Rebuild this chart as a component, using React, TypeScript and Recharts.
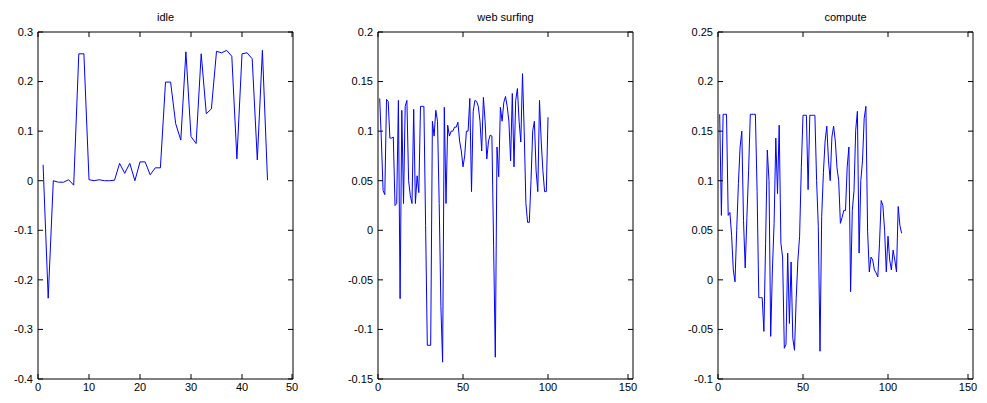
import { Line, LineChart, ReferenceLine, XAxis, YAxis } from 'recharts'

const idleValues = [
  0.032, -0.237, 0.0, -0.003, -0.003, 0.002, -0.009, 0.256, 0.256, 0.002,
  0.0, 0.002, 0.0, 0.0, 0.001, 0.035, 0.015, 0.035, 0.0, 0.038,
  0.038, 0.012, 0.026, 0.026, 0.199, 0.199, 0.115, 0.082, 0.26, 0.089,
  0.075, 0.256, 0.135, 0.145, 0.261, 0.258, 0.263, 0.251, 0.044, 0.256,
  0.258, 0.246, 0.042, 0.263, 0.001,
]

const webValues = [
  0.133, 0.09, 0.04, 0.036, 0.132, 0.13, 0.093, 0.093, 0.094, 0.025,
  0.027, 0.131, -0.069, 0.121, 0.027, 0.125, 0.131, 0.05, 0.035, 0.027,
  0.122, 0.027, 0.055, 0.038, 0.125, 0.125, 0.125, 0.005, -0.116, -0.116,
  -0.116, 0.11, 0.095, 0.121, 0.11, 0.027, -0.077, -0.133, 0.124, 0.027,
  0.106, 0.095, 0.1, 0.1, 0.104, 0.104, 0.109, 0.09, 0.08, 0.064,
  0.075, 0.1, 0.1, 0.133, 0.039, 0.12, 0.131, 0.13, 0.125, 0.11,
  0.08, 0.134, 0.11, 0.072, 0.09, 0.096, 0.095, -0.015, -0.128, 0.084,
  0.054, 0.124, 0.11, 0.129, 0.135, 0.125, 0.11, 0.07, 0.138, 0.064,
  0.131, 0.143, 0.11, 0.089, 0.158, 0.1, 0.027, 0.008, 0.008, 0.05,
  0.1, 0.11, 0.06, 0.039, 0.131, 0.09, 0.06, 0.039, 0.039, 0.114,
]

const computeValues = [
  0.167, 0.065, 0.167, 0.167, 0.167, 0.065, 0.068, 0.045, 0.01, -0.002,
  0.05, 0.097, 0.134, 0.15, 0.06, 0.012, 0.063, 0.11, 0.167, 0.167,
  0.167, 0.167, 0.089, -0.018, -0.018, -0.018, -0.052, 0.037, 0.131, 0.1,
  -0.057, 0.01, 0.057, 0.143, 0.087, 0.156, 0.037, 0.023, -0.069, -0.065,
  0.027, -0.044, 0.018, -0.059, -0.071, -0.019, 0.02, 0.044, 0.113, 0.166,
  0.166, 0.166, 0.091, 0.166, 0.166, 0.166, 0.166, 0.1, 0.054, -0.072,
  0.064, 0.108, 0.14, 0.155, 0.12, 0.1, 0.144, 0.155, 0.14, 0.113,
  0.1, 0.057, 0.063, 0.07, 0.07, 0.114, 0.134, -0.012, 0.07, 0.09,
  0.151, 0.17, 0.027, 0.1, 0.12, 0.163, 0.175, 0.049, 0.008, 0.023,
  0.02, 0.01, 0.007, 0.003, 0.037, 0.08, 0.075, 0.05, 0.008, 0.044,
  0.02, 0.01, 0.03, 0.02, 0.008, 0.074, 0.055, 0.047,
]

const idleXTicks = [0, 10, 20, 30, 40, 50]
const idleYTicks = [-0.4, -0.3, -0.2, -0.1, 0, 0.1, 0.2, 0.3]
const webXTicks = [0, 50, 100, 150]
const webYTicks = [-0.15, -0.1, -0.05, 0, 0.05, 0.1, 0.15, 0.2]
const computeXTicks = [0, 50, 100, 150]
const computeYTicks = [-0.1, -0.05, 0, 0.05, 0.1, 0.15, 0.2, 0.25]

const font = 'Arial, "Liberation Sans", Helvetica, sans-serif'
const fontSize = 11
const plotTop = 32
const plotHeight = 347

// bottom tick also draws the matching inward tick on the top edge of the box
const BottomTick = ({ x, y, payload }: any) => (
  <g>
    <line x1={x} y1={y} x2={x} y2={y - 5} stroke="#000" />
    <line x1={x} y1={y - plotHeight} x2={x} y2={y - plotHeight + 5} stroke="#000" />
    <text x={x} y={y + 4} dy="0.71em" textAnchor="middle" fontSize={fontSize} fontFamily={font} fill="#000">
      {payload.value}
    </text>
  </g>
)

const LeftTick = ({ x, y, payload }: any) => (
  <g>
    <line x1={x} y1={y} x2={x + 5} y2={y} stroke="#000" />
    <text x={x - 5} y={y} dy="0.35em" textAnchor="end" fontSize={fontSize} fontFamily={font} fill="#000">
      {payload.value}
    </text>
  </g>
)

const RightTick = ({ x, y }: any) => <line x1={x} y1={y} x2={x - 5} y2={y} stroke="#000" />

type PanelProps = {
  title: string
  values: number[]
  xTicks: number[]
  yTicks: number[]
  left: number
  width: number
  axisWidth: number
}

function Panel({ title, values, xTicks, yTicks, left, width, axisWidth }: PanelProps) {
  const data = values.map((value, i) => ({ x: i + 1, value }))
  const xDomain = [xTicks[0], xTicks[xTicks.length - 1]]
  const yDomain = [yTicks[0], yTicks[yTicks.length - 1]]
  const plotLeft = axisWidth
  const plotRight = width - 7
  return (
    <div style={{ position: 'absolute', left, top: 0, width, height: 403 }}>
      <div
        style={{
          position: 'absolute',
          left: plotLeft,
          width: plotRight - plotLeft,
          top: 11,
          textAlign: 'center',
          fontFamily: font,
          fontSize,
          color: '#000',
        }}
      >
        {title}
      </div>
      <LineChart width={width} height={403} data={data} margin={{ top: plotTop, right: 6, bottom: 0, left: 0 }}>
        <XAxis
          xAxisId="bottom"
          dataKey="x"
          type="number"
          domain={xDomain}
          ticks={xTicks}
          allowDataOverflow
          height={24}
          tickSize={0}
          tickMargin={0}
          tickLine={false}
          axisLine={{ stroke: '#000' }}
          tick={<BottomTick />}
        />
        <YAxis
          yAxisId="left"
          type="number"
          domain={yDomain}
          ticks={yTicks}
          allowDataOverflow
          width={axisWidth}
          tickSize={0}
          tickMargin={0}
          tickLine={false}
          axisLine={{ stroke: '#000' }}
          tick={<LeftTick />}
        />
        <YAxis
          yAxisId="right"
          orientation="right"
          type="number"
          domain={yDomain}
          ticks={yTicks}
          allowDataOverflow
          width={1}
          tickSize={0}
          tickMargin={0}
          tickLine={false}
          axisLine={{ stroke: '#000' }}
          tick={<RightTick />}
        />
        <ReferenceLine xAxisId="bottom" yAxisId="left" y={yDomain[1]} stroke="#000" />
        <Line
          xAxisId="bottom"
          yAxisId="left"
          type="linear"
          dataKey="value"
          stroke="#0000ff"
          strokeWidth={1}
          dot={false}
          isAnimationActive={false}
        />
        <Line
          xAxisId="bottom"
          yAxisId="right"
          type="linear"
          dataKey="value"
          stroke="none"
          dot={false}
          activeDot={false}
          isAnimationActive={false}
        />
      </LineChart>
    </div>
  )
}

export default function App() {
  return (
    <div style={{ position: 'absolute', left: 0, top: 0, width: 987, height: 403, background: '#fff' }}>
      <Panel title="idle" values={idleValues} xTicks={idleXTicks} yTicks={idleYTicks} left={0} width={300} axisWidth={38} />
      <Panel title="web surfing" values={webValues} xTicks={webXTicks} yTicks={webYTicks} left={330} width={310} axisWidth={48} />
      <Panel title="compute" values={computeValues} xTicks={computeXTicks} yTicks={computeYTicks} left={670} width={310} axisWidth={48} />
    </div>
  )
}
